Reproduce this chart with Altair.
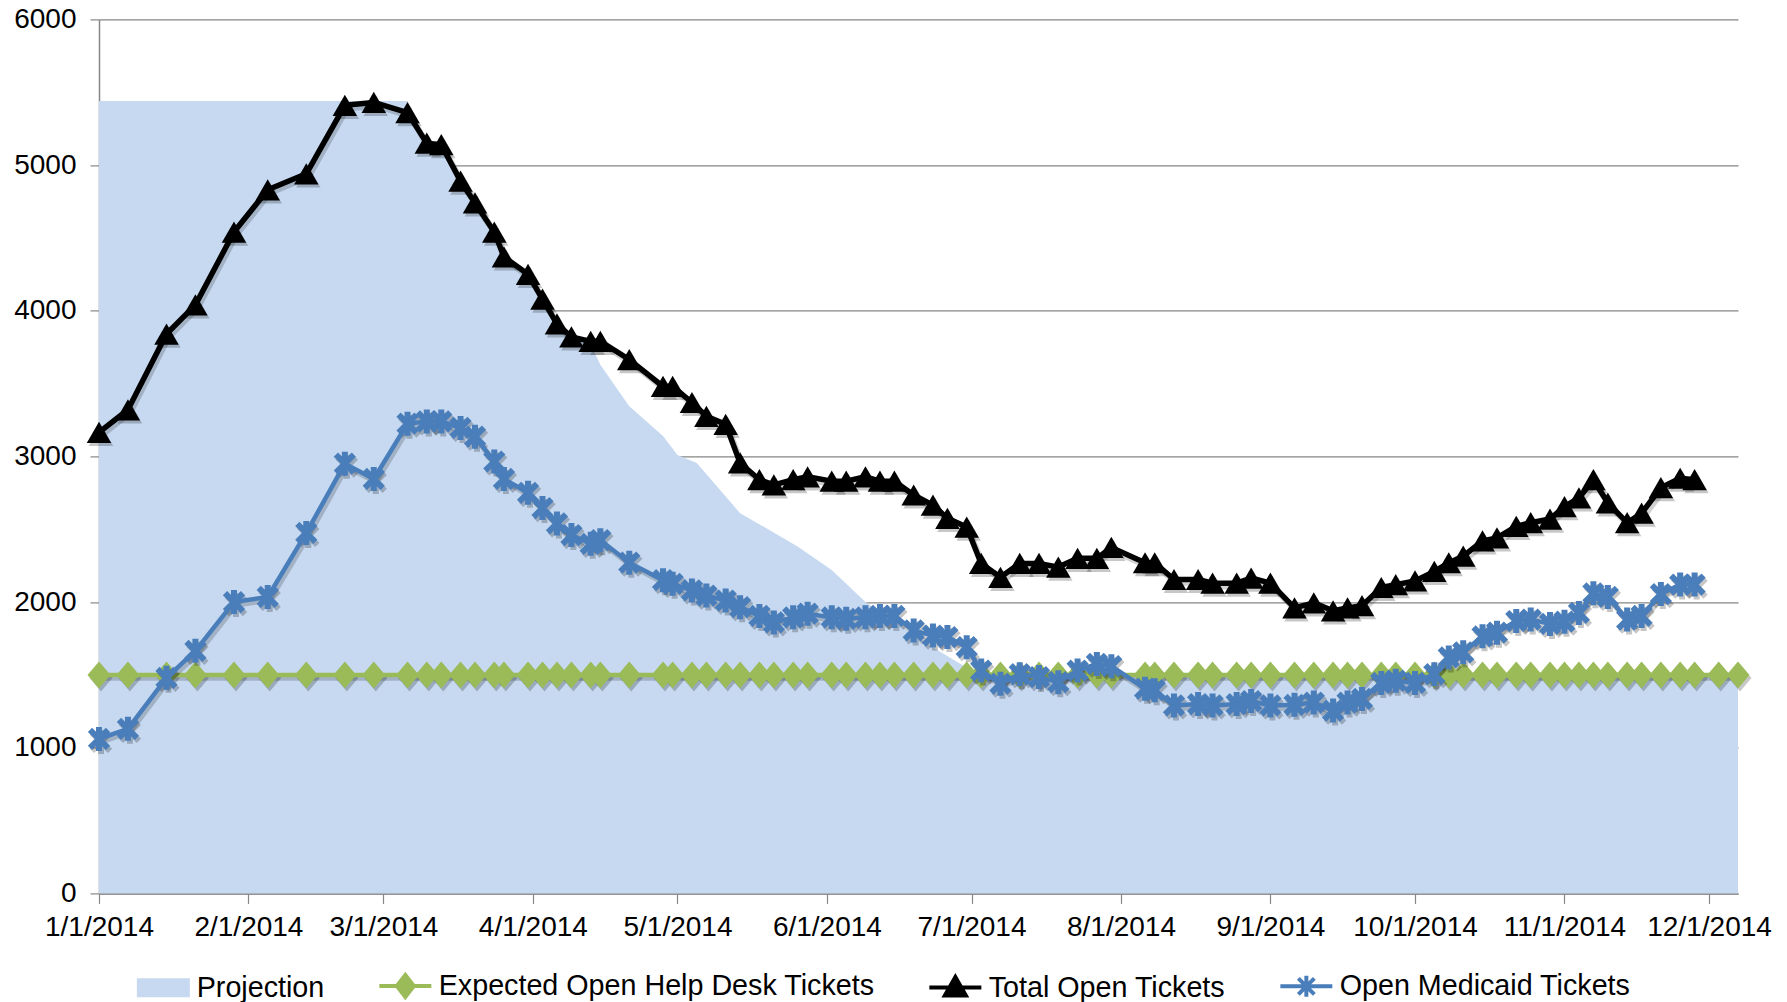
import altair as alt
import pandas as pd

FONT = "Liberation Sans"

# ---------------- data ----------------
obs_dates = [
    "2014-01-01", "2014-01-07", "2014-01-15", "2014-01-21", "2014-01-29", "2014-02-05", "2014-02-13", "2014-02-21", "2014-02-27", "2014-03-06",
    "2014-03-10", "2014-03-13", "2014-03-17", "2014-03-20", "2014-03-24", "2014-03-26", "2014-03-31", "2014-04-03", "2014-04-06", "2014-04-09",
    "2014-04-13", "2014-04-15", "2014-04-21", "2014-04-28", "2014-04-30", "2014-05-04", "2014-05-07", "2014-05-11", "2014-05-14", "2014-05-18",
    "2014-05-21", "2014-05-25", "2014-05-28", "2014-06-02", "2014-06-05", "2014-06-09", "2014-06-12", "2014-06-15", "2014-06-19", "2014-06-23",
    "2014-06-26", "2014-06-30", "2014-07-03", "2014-07-07", "2014-07-11", "2014-07-15", "2014-07-19", "2014-07-23", "2014-07-27", "2014-07-30",
    "2014-08-06", "2014-08-08", "2014-08-12", "2014-08-17", "2014-08-20", "2014-08-25", "2014-08-28", "2014-09-01", "2014-09-06", "2014-09-10",
    "2014-09-14", "2014-09-17", "2014-09-20", "2014-09-24", "2014-09-27", "2014-10-01", "2014-10-05", "2014-10-08", "2014-10-11", "2014-10-15",
    "2014-10-18", "2014-10-22", "2014-10-25", "2014-10-29", "2014-11-01", "2014-11-04", "2014-11-07", "2014-11-10", "2014-11-14", "2014-11-17",
    "2014-11-21", "2014-11-25", "2014-11-28",
]

total_open = [
    3165, 3320, 3840, 4040, 4540, 4830, 4940, 5410, 5430, 5360,
    5150, 5140, 4890, 4740, 4540, 4370, 4250, 4080, 3910, 3820,
    3790, 3790, 3665, 3480, 3480, 3370, 3275, 3220, 2955, 2840,
    2805, 2840, 2860, 2830, 2830, 2860, 2830, 2830, 2735, 2665,
    2575, 2515, 2265, 2170, 2265, 2265, 2240, 2300, 2300, 2375,
    2270, 2270, 2155, 2155, 2130, 2130, 2165, 2130, 1960, 1995,
    1940, 1960, 1975, 2100, 2120, 2145, 2210, 2270, 2315, 2420,
    2440, 2520, 2545, 2570, 2655, 2715, 2840, 2680, 2545, 2610,
    2785, 2850, 2840,
]

medicaid_open = [
    1060, 1130, 1480, 1665, 2000, 2035, 2475, 2950, 2845, 3225,
    3240, 3240, 3195, 3135, 2965, 2845, 2750, 2645, 2540, 2460,
    2400, 2425, 2270, 2150, 2125, 2080, 2045, 2010, 1965, 1905,
    1860, 1895, 1920, 1895, 1885, 1895, 1905, 1905, 1805, 1770,
    1760, 1690, 1530, 1440, 1505, 1485, 1450, 1530, 1575, 1560,
    1405, 1395, 1290, 1300, 1290, 1300, 1320, 1290, 1295, 1310,
    1255, 1310, 1335, 1445, 1460, 1445, 1505, 1620, 1655, 1765,
    1790, 1870, 1880, 1850, 1865, 1925, 2060, 2035, 1880, 1905,
    2055, 2120, 2120,
]

expected_dates = obs_dates + ["2014-12-03", "2014-12-07"]
expected_open = [
    1500, 1500, 1500, 1500, 1500, 1500, 1500, 1500, 1500, 1500,
    1500, 1500, 1500, 1500, 1500, 1500, 1500, 1500, 1500, 1500,
    1500, 1500, 1500, 1500, 1500, 1500, 1500, 1500, 1500, 1500,
    1500, 1500, 1500, 1500, 1500, 1500, 1500, 1500, 1500, 1500,
    1500, 1500, 1500, 1500, 1500, 1500, 1500, 1500, 1500, 1500,
    1500, 1500, 1500, 1500, 1500, 1500, 1500, 1500, 1500, 1500,
    1500, 1500, 1500, 1500, 1500, 1500, 1500, 1500, 1500, 1500,
    1500, 1500, 1500, 1500, 1500, 1500, 1500, 1500, 1500, 1500,
    1500, 1500, 1500, 1500, 1500,
]

projection_dates = [
    "2014-01-01", "2014-03-06", "2014-03-10", "2014-03-13", "2014-03-17", "2014-03-20", "2014-03-24", "2014-03-26",
    "2014-03-31", "2014-04-03", "2014-04-06", "2014-04-09", "2014-04-13", "2014-04-15", "2014-04-21", "2014-04-28",
    "2014-05-01", "2014-05-05", "2014-05-14", "2014-05-19", "2014-05-26", "2014-06-02", "2014-06-09", "2014-06-23",
    "2014-06-27", "2014-07-01", "2014-07-03", "2014-12-07",
]
projection = [
    5440, 5440, 5150, 5130, 4880, 4730, 4530, 4360,
    4240, 4070, 3900, 3810, 3770, 3630, 3345, 3140,
    3010, 2955, 2610, 2515, 2380, 2220, 2000, 1690,
    1610, 1530, 1500, 1500,
]

series_names = ["Projection", "Expected Open Help Desk Tickets", "Total Open Tickets", "Open Medicaid Tickets"]
series_colors = ["#C6D9F0", "#9BBB59", "#000000", "#4A7EBB"]
y_ticks = [0, 1000, 2000, 3000, 4000, 5000, 6000]
x_tick_months = [1, 2, 3, 4, 5, 6, 7, 8, 9, 10, 11, 12]

# ---------------- marker / legend shapes ----------------
DIAMOND = "M0,-1L0.85,0L0,1L-0.85,0Z"
STAR = "M-0.75,-0.75L0.75,0.75M-0.75,0.75L0.75,-0.75M0,-1L0,1"
legend_paths = [
    "M-2.45,-0.75L2.45,-0.75L2.45,0.75L-2.45,0.75Z",
    "M-2.6,0L2.6,0M0,-1.1L0.85,0L0,1.1L-0.85,0Z",
    "M-2.6,0L2.6,0M0,-1.05L1.05,0.8L-1.05,0.8Z",
    "M-2.6,0L2.6,0M-0.8,-0.8L0.8,0.8M-0.8,0.8L0.8,-0.8M0,-1.05L0,1.05",
]

GRID = "#868686"
SHADOW = "#000000"


def local(d):
    return d + "T00:00:00"


proj_df = pd.DataFrame({"date": [local(d) for d in projection_dates], "value": projection})
exp_df = pd.DataFrame({"date": [local(d) for d in expected_dates], "value": expected_open})
tot_df = pd.DataFrame({"date": [local(d) for d in obs_dates], "value": total_open})
med_df = pd.DataFrame({"date": [local(d) for d in obs_dates], "value": medicaid_open})
legend_df = pd.DataFrame({"series": series_names})

x_scale = alt.Scale(
    domain=[alt.DateTime(year=2014, month=1, date=1), alt.DateTime(year=2014, month=12, date=7)],
    nice=False,
)
y_scale = alt.Scale(domain=[0, 6000], nice=False, zero=True)

x_axis = alt.Axis(
    values=[alt.DateTime(year=2014, month=m, date=1) for m in x_tick_months],
    format="%-m/%-d/%Y",
    title=None,
    grid=False,
    tickSize=10,
    labelPadding=10,
    labelOverlap=False,
    labelFlush=False,
)
y_axis = alt.Axis(
    values=y_ticks,
    title=None,
    grid=True,
    tickSize=9,
    labelPadding=14,
    format="d",
)

X = alt.X("date:T", scale=x_scale, axis=x_axis)
Y = alt.Y("value:Q", scale=y_scale, axis=y_axis)

area = alt.Chart(proj_df).mark_area(color=series_colors[0], opacity=1).encode(x=X, y=Y)


def series_layers(df, color, line_width, point_kwargs):
    sh_line = alt.Chart(df).mark_line(color=SHADOW, opacity=0.18, strokeWidth=line_width + 1,
                                      strokeJoin="round", xOffset=2, yOffset=3).encode(x=X, y=Y)
    sh_pts = alt.Chart(df).mark_point(color=SHADOW, opacity=0.22, xOffset=2, yOffset=3,
                                      **point_kwargs).encode(x=X, y=Y)
    line = alt.Chart(df).mark_line(color=color, strokeWidth=line_width, strokeJoin="round").encode(x=X, y=Y)
    pts = alt.Chart(df).mark_point(color=color, opacity=1, **point_kwargs).encode(x=X, y=Y)
    return [sh_line, sh_pts, line, pts]


exp_layers = series_layers(exp_df, series_colors[1], 4.5,
                           dict(shape=DIAMOND, size=729, filled=True, strokeWidth=0))
tot_layers = series_layers(tot_df, series_colors[2], 5.5,
                           dict(shape="triangle-up", size=600, filled=True, strokeWidth=0))
med_layers = series_layers(med_df, series_colors[3], 4.5,
                           dict(shape=STAR, size=576, filled=False, strokeWidth=6))

leg = alt.Legend(
    title=None,
    orient="none",
    legendX=50,
    legendY=952,
    direction="horizontal",
    columns=4,
    symbolSize=400,
    symbolStrokeWidth=4,
    symbolOpacity=1,
    labelOffset=19,
    columnPadding=46,
    padding=0,
    labelFont=FONT,
    labelFontSize=28.7,
    labelColor="#000000",
    labelLimit=1000,
)
legend_layer = alt.Chart(legend_df).mark_point(opacity=0).encode(
    fill=alt.Fill("series:N", scale=alt.Scale(domain=series_names, range=series_colors), legend=leg),
    stroke=alt.Stroke("series:N", scale=alt.Scale(domain=series_names, range=series_colors), legend=leg),
    shape=alt.Shape("series:N", scale=alt.Scale(domain=series_names, range=legend_paths), legend=leg),
)

chart = alt.layer(
    area, *exp_layers, *tot_layers, *med_layers, legend_layer
).properties(
    width=1639,
    height=874,
    autosize=alt.AutoSizeParams(type="none"),
    padding={"left": 91, "top": 11.4, "right": 41, "bottom": 108.6},
).configure_view(
    stroke=None
).configure_axis(
    labelFont=FONT,
    labelFontSize=28,
    labelColor="#000000",
    tickColor=GRID,
    domainColor=GRID,
    gridColor=GRID,
    gridWidth=1.2,
    domainWidth=1.5,
    tickWidth=1.2,
)

chart.save("out.html", embed_options={"renderer": "svg", "actions": False})
